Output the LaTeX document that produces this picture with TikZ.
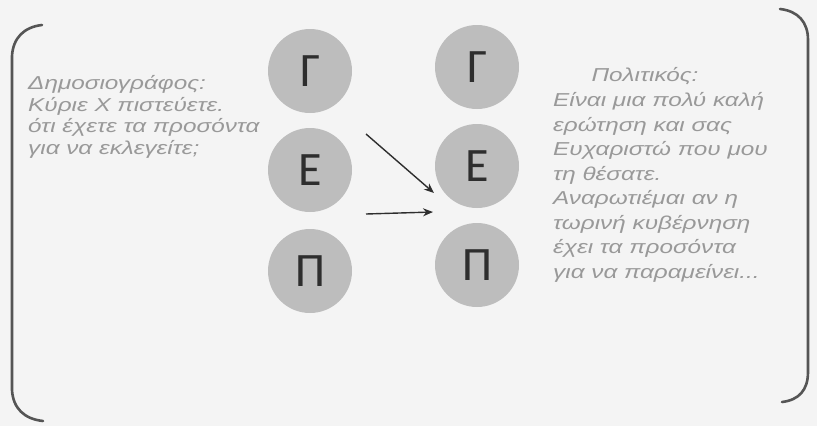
\documentclass[tikz,border=0pt]{standalone}
\usepackage{fontspec}
\setmainfont{Liberation Sans}
\newfontfamily\letterfont{Carlito}
\newfontfamily\txtfont[FakeStretch=1.3]{Liberation Sans}
\usetikzlibrary{arrows.meta}
\definecolor{bg}{HTML}{F4F4F4}
\definecolor{circfill}{HTML}{BDBDBD}
\definecolor{lettercol}{HTML}{2E2E2E}
\definecolor{textcol}{HTML}{999999}
\definecolor{brackcol}{HTML}{555555}
\tikzset{
  circ/.style={circle, fill=circfill, minimum size=84pt, inner sep=0pt,
    font=\letterfont\fontsize{48}{48}\selectfont, text=lettercol},
  ltext/.style={anchor=base west, inner sep=0pt, text=textcol,
    font=\txtfont\itshape\fontsize{18.7}{20}\selectfont},
  ctext/.style={ltext, anchor=base},
  brack/.style={draw=brackcol, line width=2.6pt, line cap=round},
  arr/.style={draw=lettercol, line width=1.4pt, -{Stealth[length=10pt,width=8pt]}}
}
\begin{document}
\begin{tikzpicture}[x=1pt,y=-1pt]
\fill[bg] (0,0) rectangle (817,426);
\useasboundingbox (0,0) rectangle (817,426);
% brackets
\draw[brack] (42,25) .. controls (24,27) and (13,38) .. (12,56) -- (12,390) .. controls (13,408) and (24,419) .. (43,421);
\draw[brack] (780,9) .. controls (798,11) and (808,22) .. (808,40) -- (808,372) .. controls (808,390) and (799,400) .. (782,402);
% circles
\node[circ] (g1) at (310,71) {Γ};
\node[circ] (e1) at (310,170) {Ε};
\node[circ] (p1) at (310,271) {Π};
\node[circ] (g2) at (477,67) {Γ};
\node[circ] (e2) at (477,166) {Ε};
\node[circ] (p2) at (477,265) {Π};
% arrows
\coordinate (a1s) at (366,134);
\coordinate (a1e) at (434,193);
\coordinate (a2s) at (366,214);
\coordinate (a2e) at (433,212);
\draw[arr] (a1s) -- (a1e);
\draw[arr] (a2s) -- (a2e);
% left text
\node[ltext] (l1) at (28,89) {Δημοσιογράφος:};
\node[ltext] (l2) at (28,111) {Κύριε Χ πιστεύετε.};
\node[ltext] (l3) at (28,132) {ότι έχετε τα προσόντα};
\node[ltext] (l4) at (28,154) {για να εκλεγείτε;};
% right text
\node[ctext] (r1) at (645,81) {Πολιτικός:};
\node[ltext] (r2) at (553,106) {Είναι μια πολύ καλή};
\node[ltext] (r3) at (553,131) {ερώτηση και σας};
\node[ltext] (r4) at (553,155) {Ευχαριστώ που μου};
\node[ltext] (r5) at (553,180) {τη θέσατε.};
\node[ltext] (r6) at (553,204) {Αναρωτιέμαι αν η};
\node[ltext] (r7) at (553,229) {τωρινή κυβέρνηση};
\node[ltext] (r8) at (553,253) {έχει τα προσόντα};
\node[ltext] (r9) at (553,278) {για να παραμείνει...};
\end{tikzpicture}
\end{document}
